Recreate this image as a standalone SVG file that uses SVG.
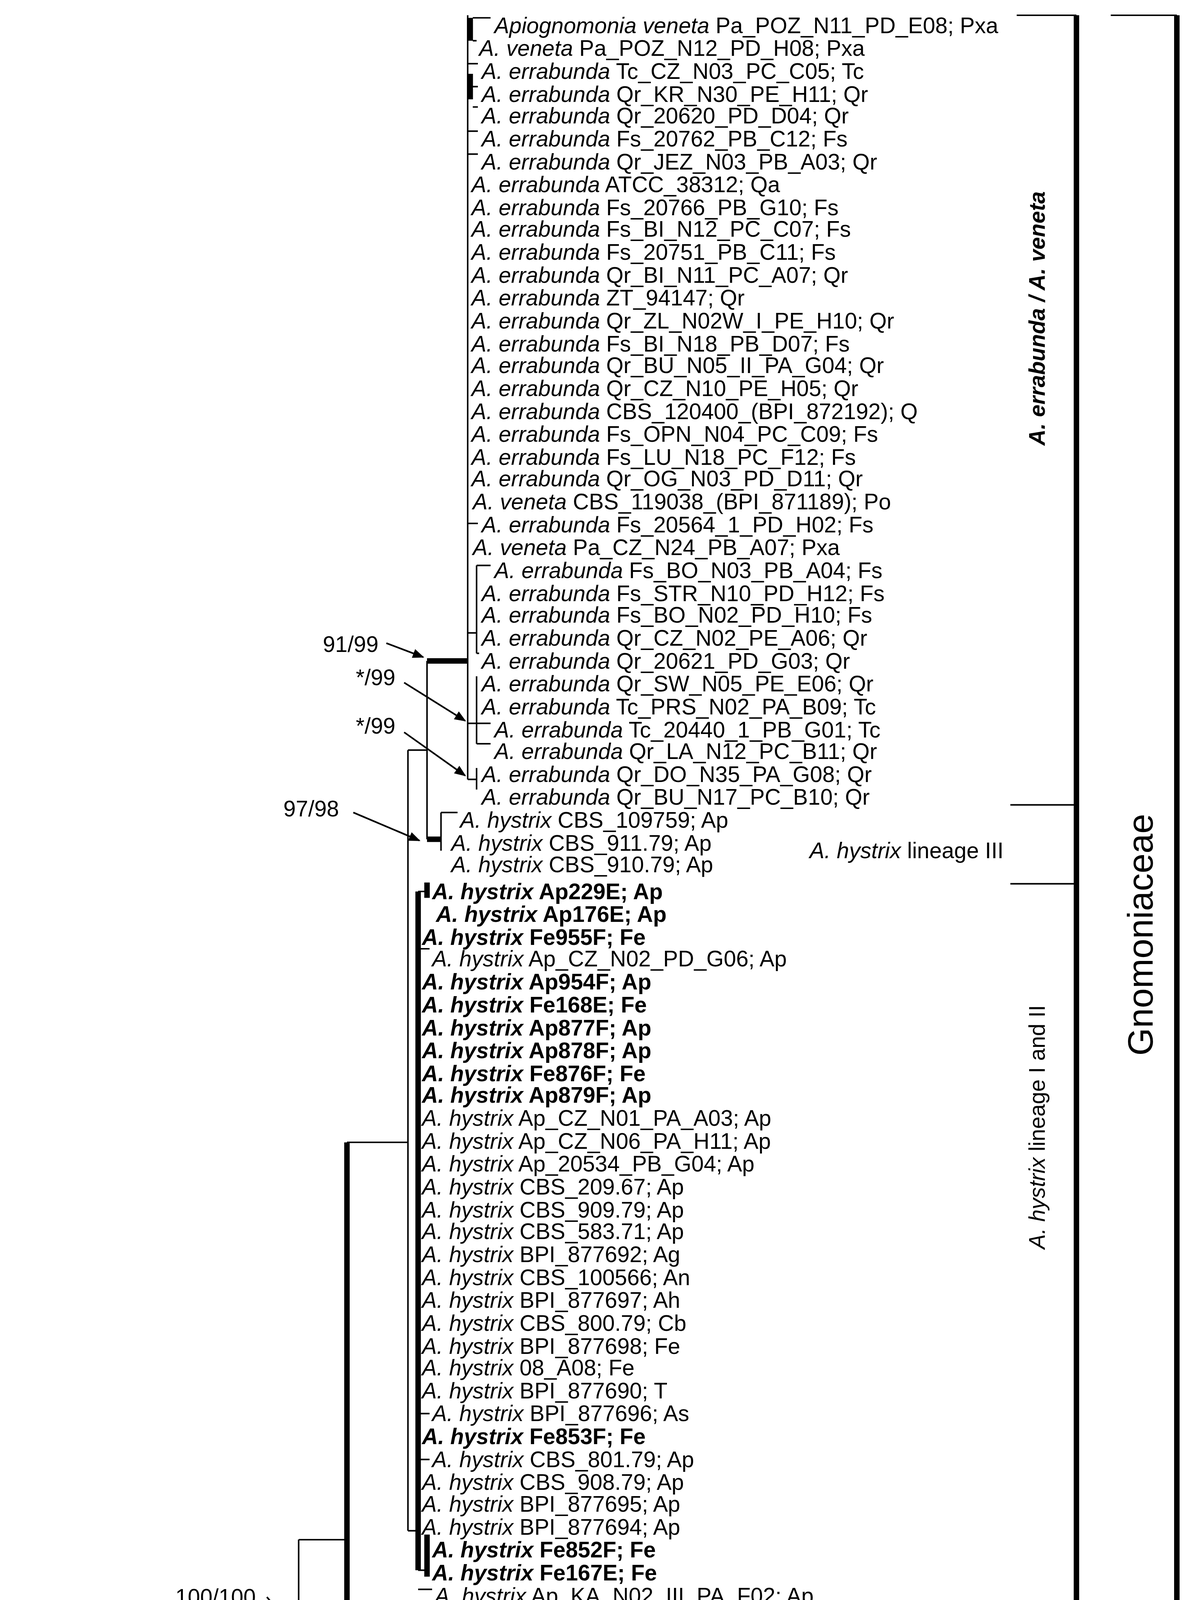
<svg xmlns="http://www.w3.org/2000/svg" width="3038" height="5112" viewBox="0 0 3038 5112">
<style>
.t{font-family:"Liberation Sans",Arial,sans-serif;font-size:17.5px;fill:#000}
.i{font-style:italic}
.b{font-weight:bold}
.n{stroke:#000;stroke-width:1.2;fill:none}
.k{stroke:#000;stroke-width:4.3;fill:none}
.a{stroke:#000;stroke-width:1.3;fill:none;marker-end:url(#ah)}
</style>
<defs>
<marker id="ah" viewBox="0 0 10 10" refX="9" refY="5" markerWidth="7" markerHeight="7" orient="auto" markerUnits="strokeWidth"><path d="M0,1 L10,5 L0,9 z" fill="#000"/></marker>
</defs>
<rect width="3038" height="5112" fill="#fff"/>
<g transform="scale(3.2527,3.2602)">
<g id="connectors">
<!-- errabunda clade -->
<path class="n" d="M368,12 V612"/>
<path class="k" d="M370,14 V32 M370,58 V78"/>
<path class="n" d="M372,14 H386 M372,32 H375 M368,50 H376 M372,68 H376 M372,84 H376 M368,103 H376 M368,121 H376"/>
<path class="n" d="M368,411 H376"/>
<path class="n" d="M368,497 H375 M375,444 V513 M375,444 H386 M375,513 H377"/>
<path class="n" d="M368,568 H375 M375,531 V584 M375,568 H386 M375,584 H386"/>
<path class="n" d="M368,612 H375 M375,603 V620"/>
<path class="k" d="M336,519 H368"/>
<path class="n" d="M336,519 V659 M321,589 H336"/>
<!-- hystrix III -->
<path class="k" d="M336,659 H347"/>
<path class="n" d="M347,638 V668 M347,638 H360"/>
<!-- hystrix I/II -->
<path class="n" d="M321,589 V1202 M321,1202 H329 M273,897 H321"/>
<path class="k" d="M329,700 V1233"/>
<path class="n" d="M329,700 H335 M329,1233 H335 M329,745 H338 M329,1110 H338 M329,1146 H338 M329,1248 H340"/>
<path class="k" d="M336,693 V705 M336,1205 V1238"/>
<!-- lower part -->
<path class="k" d="M273,897 V1328"/>
<path class="n" d="M235,1209 H273"/>
<path class="k" d="M273,1272 H345 M273,1328 H548"/>
<path class="n" d="M273,1299 H313"/>
<path class="n" d="M345,1264 V1281 M345,1264 H362 M345,1281 H372"/>
<path class="n" d="M548,1317 V1335 M548,1317 H590 M548,1335 H552"/>
<path class="n" d="M235,1209 V1395 M173,1300 H235 M173,1300 V1468"/>
<path class="k" d="M235,1395 H283 M283,1373 H330 M330,1361 H485 M283,1416 H402 M81,1384 H173 M173,1468 H274 M274,1450 H402 M274,1487 H356 M81,1523 H364"/>
<path class="n" d="M283,1373 V1416 M330,1361 V1388 M330,1388 H400"/>
<path class="n" d="M485,1352 V1370 M485,1352 H492 M485,1370 H512"/>
<path class="n" d="M402,1407 V1422 M402,1407 H412 M402,1422 H440"/>
<path class="n" d="M274,1450 V1487"/>
<path class="n" d="M402,1442 V1458 M402,1442 H406"/>
<path class="n" d="M356,1478 V1494 M356,1478 H360"/>
<path class="n" d="M364,1514 V1531 M364,1514 H388"/>
<path class="n" d="M81,1384 V1523 M25,1454 H81 M25,1454 V1550 M25,1550 H134"/>
<path class="n" d="M50,1470 L56,1452 M58,1470 L64,1452 M67,1556 L73,1538 M75,1556 L81,1538"/>
<!-- scale bar -->
<path class="n" d="M10,1318 H152"/>
<!-- arrows -->
<path class="a" d="M304,505 L333,516"/>
<path class="a" d="M318,536 L366,566"/>
<path class="a" d="M318,575 L366,609"/>
<path class="a" d="M278,638 L330,660"/>
<path class="a" d="M210,1254 L267,1322"/>
<path class="a" d="M222,1370 L235,1392"/>
<path class="a" d="M280,1353 L284,1371"/>
<!-- right brackets -->
<path class="n" d="M800,12 H847 M795,632 H847 M795,694 H847 M795,1258 H847 M874,12 H926 M874,1545 H926"/>
<path class="k" d="M847,12 V1258 M926,12 V1545"/>
</g>
<g id="errabunda" class="t">
<text x="389" y="26"><tspan class="i">Apiognomonia veneta</tspan> Pa_POZ_N11_PD_E08; Pxa</text>
<text x="377" y="44"><tspan class="i">A. veneta</tspan> Pa_POZ_N12_PD_H08; Pxa</text>
<text x="379" y="62"><tspan class="i">A. errabunda</tspan> Tc_CZ_N03_PC_C05; Tc</text>
<text x="379" y="80"><tspan class="i">A. errabunda</tspan> Qr_KR_N30_PE_H11; Qr</text>
<text x="379" y="97"><tspan class="i">A. errabunda</tspan> Qr_20620_PD_D04; Qr</text>
<text x="379" y="115"><tspan class="i">A. errabunda</tspan> Fs_20762_PB_C12; Fs</text>
<text x="379" y="133"><tspan class="i">A. errabunda</tspan> Qr_JEZ_N03_PB_A03; Qr</text>
<text x="371" y="151"><tspan class="i">A. errabunda</tspan> ATCC_38312; Qa</text>
<text x="371" y="169"><tspan class="i">A. errabunda</tspan> Fs_20766_PB_G10; Fs</text>
<text x="371" y="186"><tspan class="i">A. errabunda</tspan> Fs_BI_N12_PC_C07; Fs</text>
<text x="371" y="204"><tspan class="i">A. errabunda</tspan> Fs_20751_PB_C11; Fs</text>
<text x="371" y="222"><tspan class="i">A. errabunda</tspan> Qr_BI_N11_PC_A07; Qr</text>
<text x="371" y="240"><tspan class="i">A. errabunda</tspan> ZT_94147; Qr</text>
<text x="371" y="258"><tspan class="i">A. errabunda</tspan> Qr_ZL_N02W_I_PE_H10; Qr</text>
<text x="371" y="276"><tspan class="i">A. errabunda</tspan> Fs_BI_N18_PB_D07; Fs</text>
<text x="371" y="293"><tspan class="i">A. errabunda</tspan> Qr_BU_N05_II_PA_G04; Qr</text>
<text x="371" y="311"><tspan class="i">A. errabunda</tspan> Qr_CZ_N10_PE_H05; Qr</text>
<text x="371" y="329"><tspan class="i">A. errabunda</tspan> CBS_120400_(BPI_872192); Q</text>
<text x="371" y="347"><tspan class="i">A. errabunda</tspan> Fs_OPN_N04_PC_C09; Fs</text>
<text x="371" y="365"><tspan class="i">A. errabunda</tspan> Fs_LU_N18_PC_F12; Fs</text>
<text x="371" y="382"><tspan class="i">A. errabunda</tspan> Qr_OG_N03_PD_D11; Qr</text>
<text x="372" y="400"><tspan class="i">A. veneta</tspan> CBS_119038_(BPI_871189); Po</text>
<text x="379" y="418"><tspan class="i">A. errabunda</tspan> Fs_20564_1_PD_H02; Fs</text>
<text x="372" y="436"><tspan class="i">A. veneta</tspan> Pa_CZ_N24_PB_A07; Pxa</text>
<text x="389" y="454"><tspan class="i">A. errabunda</tspan> Fs_BO_N03_PB_A04; Fs</text>
<text x="379" y="472"><tspan class="i">A. errabunda</tspan> Fs_STR_N10_PD_H12; Fs</text>
<text x="379" y="489"><tspan class="i">A. errabunda</tspan> Fs_BO_N02_PD_H10; Fs</text>
<text x="379" y="507"><tspan class="i">A. errabunda</tspan> Qr_CZ_N02_PE_A06; Qr</text>
<text x="379" y="525"><tspan class="i">A. errabunda</tspan> Qr_20621_PD_G03; Qr</text>
<text x="379" y="543"><tspan class="i">A. errabunda</tspan> Qr_SW_N05_PE_E06; Qr</text>
<text x="379" y="561"><tspan class="i">A. errabunda</tspan> Tc_PRS_N02_PA_B09; Tc</text>
<text x="389" y="579"><tspan class="i">A. errabunda</tspan> Tc_20440_1_PB_G01; Tc</text>
<text x="389" y="596"><tspan class="i">A. errabunda</tspan> Qr_LA_N12_PC_B11; Qr</text>
<text x="379" y="614"><tspan class="i">A. errabunda</tspan> Qr_DO_N35_PA_G08; Qr</text>
<text x="379" y="632"><tspan class="i">A. errabunda</tspan> Qr_BU_N17_PC_B10; Qr</text>
</g>
<g id="hystrix3" class="t">
<text x="362" y="650"><tspan class="i">A. hystrix</tspan> CBS_109759; Ap</text>
<text x="355" y="668"><tspan class="i">A. hystrix</tspan> CBS_911.79; Ap</text>
<text x="355" y="685"><tspan class="i">A. hystrix</tspan> CBS_910.79; Ap</text>
</g>
<g id="hystrix12" class="t">
<text x="340" y="706" class="b"><tspan class="i">A. hystrix</tspan> Ap229E; Ap</text>
<text x="343" y="724" class="b"><tspan class="i">A. hystrix</tspan> Ap176E; Ap</text>
<text x="332" y="742" class="b"><tspan class="i">A. hystrix</tspan> Fe955F; Fe</text>
<text x="340" y="759"><tspan class="i">A. hystrix</tspan> Ap_CZ_N02_PD_G06; Ap</text>
<text x="332" y="777" class="b"><tspan class="i">A. hystrix</tspan> Ap954F; Ap</text>
<text x="332" y="795" class="b"><tspan class="i">A. hystrix</tspan> Fe168E; Fe</text>
<text x="332" y="813" class="b"><tspan class="i">A. hystrix</tspan> Ap877F; Ap</text>
<text x="332" y="831" class="b"><tspan class="i">A. hystrix</tspan> Ap878F; Ap</text>
<text x="332" y="849" class="b"><tspan class="i">A. hystrix</tspan> Fe876F; Fe</text>
<text x="332" y="866" class="b"><tspan class="i">A. hystrix</tspan> Ap879F; Ap</text>
<text x="332" y="884"><tspan class="i">A. hystrix</tspan> Ap_CZ_N01_PA_A03; Ap</text>
<text x="332" y="902"><tspan class="i">A. hystrix</tspan> Ap_CZ_N06_PA_H11; Ap</text>
<text x="332" y="920"><tspan class="i">A. hystrix</tspan> Ap_20534_PB_G04; Ap</text>
<text x="332" y="938"><tspan class="i">A. hystrix</tspan> CBS_209.67; Ap</text>
<text x="332" y="956"><tspan class="i">A. hystrix</tspan> CBS_909.79; Ap</text>
<text x="332" y="973"><tspan class="i">A. hystrix</tspan> CBS_583.71; Ap</text>
<text x="332" y="991"><tspan class="i">A. hystrix</tspan> BPI_877692; Ag</text>
<text x="332" y="1009"><tspan class="i">A. hystrix</tspan> CBS_100566; An</text>
<text x="332" y="1027"><tspan class="i">A. hystrix</tspan> BPI_877697; Ah</text>
<text x="332" y="1045"><tspan class="i">A. hystrix</tspan> CBS_800.79; Cb</text>
<text x="332" y="1063"><tspan class="i">A. hystrix</tspan> BPI_877698; Fe</text>
<text x="332" y="1080"><tspan class="i">A. hystrix</tspan> 08_A08; Fe</text>
<text x="332" y="1098"><tspan class="i">A. hystrix</tspan> BPI_877690; T</text>
<text x="340" y="1116"><tspan class="i">A. hystrix</tspan> BPI_877696; As</text>
<text x="332" y="1134" class="b"><tspan class="i">A. hystrix</tspan> Fe853F; Fe</text>
<text x="340" y="1152"><tspan class="i">A. hystrix</tspan> CBS_801.79; Ap</text>
<text x="332" y="1170"><tspan class="i">A. hystrix</tspan> CBS_908.79; Ap</text>
<text x="332" y="1187"><tspan class="i">A. hystrix</tspan> BPI_877695; Ap</text>
<text x="332" y="1205"><tspan class="i">A. hystrix</tspan> BPI_877694; Ap</text>
<text x="340" y="1223" class="b"><tspan class="i">A. hystrix</tspan> Fe852F; Fe</text>
<text x="340" y="1241" class="b"><tspan class="i">A. hystrix</tspan> Fe167E; Fe</text>
<text x="342" y="1259"><tspan class="i">A. hystrix</tspan> Ap_KA_N02_III_PA_F02; Ap</text>
</g>
<g id="outgroups" class="t">
<text x="369" y="1277"><tspan class="i">Plagiostoma petiolophilum</tspan> AR_3821</text>
<text x="378" y="1293"><tspan class="i">P. geranii</tspan> CBS_824.79</text>
<text x="319" y="1311"><tspan class="i">Plagiostoma aesculi</tspan> BPI_840942; Ah</text>
<text x="596" y="1331"><tspan class="i">Pleuroceras pleurostylum</tspan> CBS_906.79</text>
<text x="554" y="1348"><tspan class="i">P. oregonense</tspan> CBS_121260</text>
<text x="497" y="1365"><tspan class="i">Gnomonia skokomishica</tspan> CBS_121245</text>
<text x="518" y="1384"><tspan class="i">G. gnomon</tspan> CBS_199.53</text>
<text x="405" y="1401"><tspan class="i">Discula destructiva</tspan> CBS_109771; Cn</text>
<text x="417" y="1418"><tspan class="i">Cryptosporella hypodermia</tspan> CBS_171.69</text>
<text x="447" y="1437"><tspan class="i">C. betulae</tspan> CBS_109763</text>
<text x="411" y="1453"><tspan class="i">Ophiognomonia ischnostyla</tspan> CBS_837.79</text>
<text x="408" y="1472"><tspan class="i">O. pseudoischnostyla</tspan> CBS_842.79</text>
<text x="366" y="1490"><tspan class="i">O. intermedia</tspan> CBS_119194</text>
<text x="362" y="1508"><tspan class="i">O. alni-viridis</tspan> CBS_782.79</text>
<text x="393" y="1526"><tspan class="i">Gnomoniopsis tormentillae</tspan> CBS_904.79</text>
<text x="369" y="1543"><tspan class="i">G. comari</tspan> CBS_806.79</text>
<text x="143" y="1562"><tspan class="i">Cryphonectria parasitica</tspan> 1155-2; Cd</text>
</g>
<g id="supports" class="t">
<text x="254" y="512">91/99</text>
<text x="280" y="538">*/99</text>
<text x="280" y="576">*/99</text>
<text x="223" y="641">97/98</text>
<text x="138" y="1260">100/100</text>
<text x="280" y="1270">98/100</text>
<text x="182" y="1372">*/83</text>
<text x="242" y="1357">*/83</text>
<text x="349" y="1354">97/100</text>
<text x="316" y="1406">100/100</text>
<text x="286" y="1449">100/100</text>
<text x="190" y="1466">80/75</text>
<text x="280" y="1478">99/100</text>
<text x="164" y="1515">100/100</text>
<text x="93" y="1343" text-anchor="middle">0.07</text>
<text x="52" y="1436" text-anchor="middle" style="font-size:20px">×10</text>
<text x="52" y="1537" text-anchor="middle" style="font-size:20px">×10</text>
</g>
<g id="clade-labels" class="t">
<text x="637" y="674"><tspan class="i">A. hystrix</tspan> lineage III</text>
<text transform="translate(822,250) rotate(-90)" text-anchor="middle" class="b i">A. errabunda / A. veneta</text>
<text transform="translate(822,885) rotate(-90)" text-anchor="middle"><tspan class="i">A. hystrix</tspan> lineage I and II</text>
<text transform="translate(907,734) rotate(-90)" text-anchor="middle" style="font-size:28px">Gnomoniaceae</text>
</g>
</g>
</svg>
